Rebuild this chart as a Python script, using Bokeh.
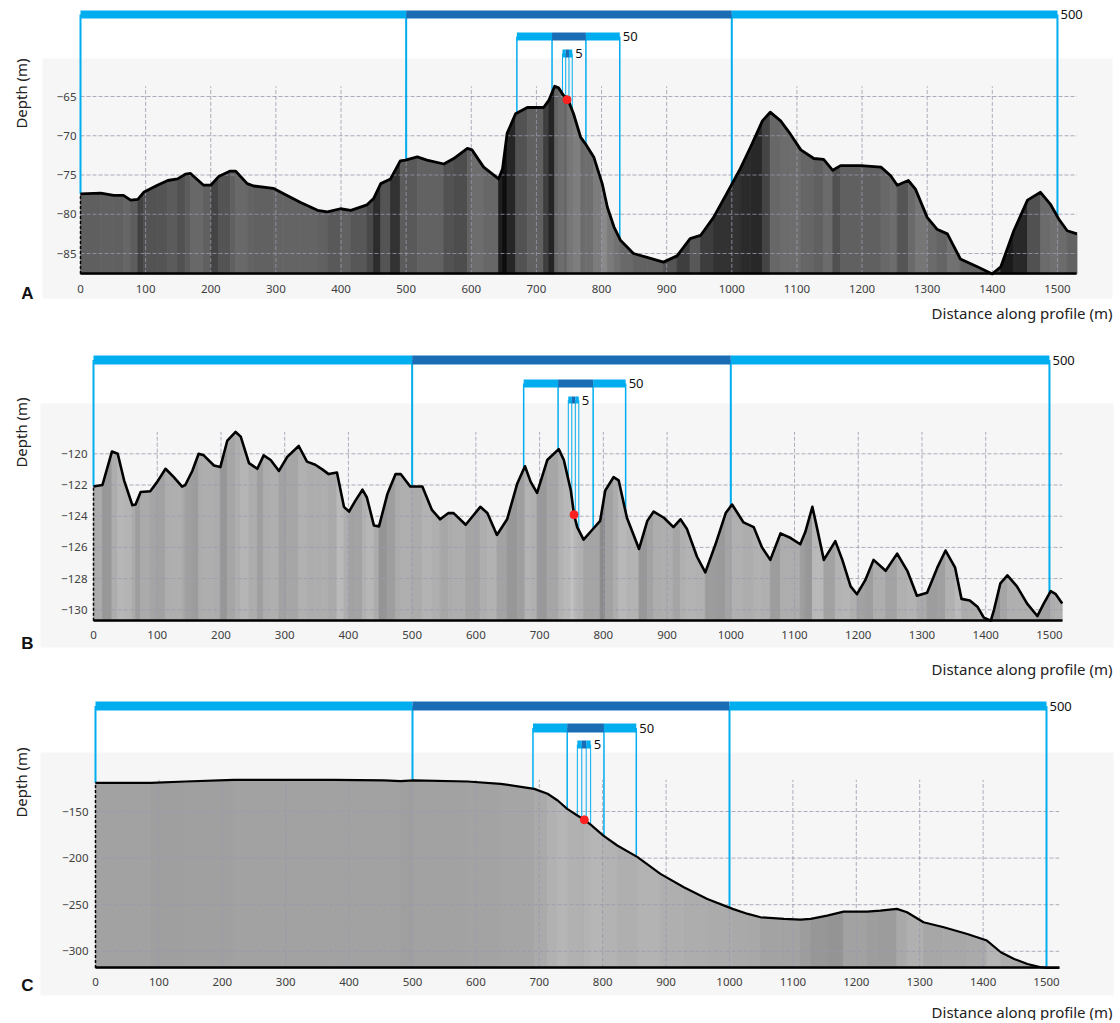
import numpy as np
from bokeh.plotting import figure
from bokeh.layouts import column
from bokeh.models import Range1d, Label, ColumnDataSource
from bokeh.embed import file_html
from bokeh.resources import INLINE

# ---------------- data ----------------
a_dist = [0, 31, 51, 66, 77, 88, 97, 118, 134, 149,
          161, 169, 189, 200, 212, 230, 238, 256, 266, 296,
          312, 338, 364, 379, 399, 415, 440, 450, 461, 476,
          491, 499, 517, 532, 558, 573, 594, 601, 619, 642,
          648, 655, 668, 686, 711, 719, 728, 734, 742, 748,
          757, 768, 775, 788, 801, 809, 819, 829, 849, 870,
          895, 916, 936, 952, 972, 998, 1013, 1029, 1047, 1059,
          1075, 1090, 1106, 1126, 1141, 1155, 1167, 1198, 1229, 1244,
          1254, 1271, 1282, 1300, 1315, 1331, 1351, 1377, 1400, 1413,
          1433, 1454, 1474, 1489, 1502, 1515, 1530]
a_depth = [-77.4, -77.3, -77.6, -77.6, -78.2, -78.1, -77.2, -76.3, -75.7, -75.5,
           -74.9, -74.8, -76.3, -76.3, -75.2, -74.5, -74.5, -76.1, -76.4, -76.7,
           -77.4, -78.5, -79.5, -79.7, -79.3, -79.5, -78.8, -78.0, -76.1, -75.5,
           -73.2, -73.1, -72.7, -73.1, -73.6, -72.9, -71.6, -71.8, -74.0, -75.5,
           -74.2, -69.7, -67.2, -66.4, -66.4, -65.5, -63.7, -63.9, -64.9, -65.3,
           -67.2, -70.2, -71.0, -72.7, -76.1, -79.1, -81.6, -83.3, -85.0, -85.5,
           -86.1, -85.3, -83.1, -82.7, -80.4, -76.5, -74.2, -71.4, -68.1, -67.0,
           -68.1, -69.8, -71.8, -72.9, -73.0, -74.4, -73.8, -73.8, -74.0, -75.1,
           -76.3, -75.7, -76.8, -80.4, -81.9, -82.5, -85.7, -86.7, -87.6, -86.7,
           -82.1, -78.2, -77.2, -78.7, -80.6, -82.1, -82.5]

b_dist = [0, 14, 22, 29, 38, 48, 61, 66, 74, 89,
          100, 113, 126, 139, 144, 155, 165, 173, 189, 199,
          210, 223, 231, 244, 257, 267, 278, 291, 304, 322,
          335, 348, 359, 369, 382, 393, 401, 411, 422, 429,
          440, 448, 461, 474, 482, 497, 516, 531, 544, 557,
          565, 584, 607, 618, 633, 649, 665, 677, 686, 696,
          712, 730, 738, 749, 754, 759, 769, 782, 795, 803,
          816, 824, 837, 856, 869, 879, 895, 910, 921, 931,
          947, 960, 976, 992, 1002, 1020, 1036, 1049, 1062, 1078,
          1094, 1109, 1117, 1128, 1135, 1146, 1164, 1175, 1188, 1198,
          1211, 1224, 1243, 1261, 1277, 1292, 1308, 1324, 1337, 1352,
          1362, 1375, 1387, 1397, 1408, 1413, 1423, 1434, 1449, 1465,
          1481, 1491, 1502, 1510, 1520]
b_depth = [-122.1, -122.0, -120.85, -119.85, -120.0, -121.7, -123.3, -123.25, -122.45, -122.4,
           -121.8, -120.96, -121.5, -122.1, -122.0, -121.1, -120.0, -120.1, -120.75, -120.85,
           -119.15, -118.6, -118.9, -120.6, -120.96, -120.1, -120.4, -121.1, -120.2, -119.5,
           -120.5, -120.7, -121.0, -121.3, -121.2, -123.4, -123.7, -123.0, -122.3, -122.8,
           -124.6, -124.65, -122.6, -121.3, -121.3, -122.1, -122.1, -123.6, -124.2, -123.8,
           -123.8, -124.55, -123.4, -123.8, -125.2, -124.2, -121.9, -120.8, -121.8, -122.5,
           -120.4, -119.7, -120.4, -122.35, -123.9, -124.7, -125.5, -124.9, -124.3, -122.35,
           -121.5, -121.7, -124.1, -126.1, -124.3, -123.7, -124.1, -124.7, -124.2, -124.8,
           -126.6, -127.6, -125.8, -123.8, -123.25, -124.4, -124.7, -126.0, -126.8, -125.1,
           -125.4, -125.8, -125.0, -123.4, -124.7, -126.8, -125.6, -126.8, -128.5, -129.0,
           -128.1, -126.8, -127.5, -126.4, -127.5, -129.1, -128.9, -127.3, -126.2, -127.3,
           -129.3, -129.4, -129.8, -130.5, -130.7, -130.0, -128.3, -127.8, -128.5, -129.6,
           -130.4, -129.6, -128.8, -129.0, -129.6]

c_dist = [0, 87, 142, 218, 376, 455, 481, 502, 587, 639,
          692, 713, 729, 744, 760, 771, 781, 801, 823, 855,
          891, 928, 965, 1005, 1029, 1049, 1086, 1112, 1128, 1154,
          1180, 1217, 1238, 1264, 1280, 1306, 1338, 1375, 1406, 1428,
          1449, 1470, 1491, 1501, 1520]
c_depth = [-119.2, -119.2, -117.8, -116.0, -116.0, -116.7, -117.4, -116.7, -117.8, -120.3,
           -125.7, -131.0, -138.2, -147.1, -154.3, -158.9, -164.0, -175.8, -186.5, -199.0,
           -216.9, -231.2, -243.8, -254.5, -259.9, -263.5, -265.2, -266.0, -265.2, -261.7,
           -257.4, -257.4, -256.3, -254.5, -258.1, -268.8, -274.2, -281.4, -288.5, -301.0,
           -308.2, -313.6, -317.1, -317.9, -317.9]

x_tick_values = list(range(0, 1600, 100))
a_depth_ticks = [-85, -80, -75, -70, -65]
b_depth_ticks = [-130, -128, -126, -124, -122, -120]
c_depth_ticks = [-300, -250, -200, -150]

scale_labels = ["500", "50", "5"]
a_bar500 = [0, 500, 1000, 1500]
a_bar50 = [670, 724, 776, 828]
a_bar5 = [740, 745, 750, 755]
b_bar500 = [0, 500, 1000, 1500]
b_bar50 = [675, 729, 784, 835]
b_bar5 = [745, 750.5, 756, 761.5]
c_bar500 = [0, 500, 1000, 1500]
c_bar50 = [690, 744, 802, 853]
c_bar5 = [760, 767, 774, 781]

a_point = (747, -65.4)
b_point = (754, -123.9)
c_point = (771, -158.9)

panel_letters = ["A", "B", "C"]

# ---------------- style / layout (page pixels) ----------------
LIGHT = "#00ADEE"
DARK = "#1A6DB5"
GRID = "#9A9AAE"
FONT = "Noto Sans"
W = 1118

geo_a = dict(fig_top=0, height=338, x0=80, ppx=0.6513, ref_d=-65, ref_py=96, ppy=7.85,
             bars=[(10, 18), (32, 40), (49, 57)], gray=(42, 58, 1112, 298),
             depth_lbl=(20, 93), letter=(27, 293), dist_lbl=(1112, 312),
             xstand=11, ystand=4, base=96, kup=300, kdn=110, lw=2.8)
geo_b = dict(fig_top=338, height=344, x0=93, ppx=0.6373, ref_d=-120, ref_py=453.3, ppy=15.6,
             bars=[(355, 364), (379, 387), (396, 403)], gray=(40, 403, 1113, 647),
             depth_lbl=(20, 432), letter=(27, 643), dist_lbl=(1112, 668),
             xstand=10, ystand=6, base=172, kup=140, kdn=70, lw=2.6)
geo_c = dict(fig_top=682, height=338, x0=95, ppx=0.634, ref_d=-150, ref_py=811, ppy=0.932,
             bars=[(701, 710), (723, 732), (740, 748)], gray=(40, 752, 1113, 995),
             depth_lbl=(20, 782), letter=(27, 985), dist_lbl=(1112, 1011),
             xstand=10, ystand=7, base=162, kup=80, kdn=35, lw=2.2)


def make_panel(letter, dist, depth, yticks, bars, point, g):
    xmax = max(dist)
    ymin = min(depth)
    ymax = max(depth)

    def dx(px):
        return (px - g["x0"]) / g["ppx"]

    def dy(py):
        return g["ref_d"] - (py - g["ref_py"]) / g["ppy"]

    top, H = g["fig_top"], g["height"]
    p = figure(width=W, height=H, x_range=Range1d(dx(0), dx(W)),
               y_range=Range1d(dy(top + H), dy(top)), output_backend="svg",
               toolbar_location=None, title=None, min_border=0)
    p.background_fill_color = "white"
    p.border_fill_color = "white"
    p.outline_line_color = None
    p.xgrid.visible = False
    p.ygrid.visible = False

    # light grey chart background
    gx0, gy0, gx1, gy1 = g["gray"]
    p.quad(left=[dx(gx0)], right=[dx(gx1)], top=[dy(gy0)], bottom=[dy(gy1)],
           fill_color="#F6F6F6", line_color=None)

    # shaded profile fill (one stripe per profile segment, shade from local slope)
    xs, ys, cols = [], [], []
    for i in range(len(dist) - 1):
        s = (depth[i + 1] - depth[i]) / (dist[i + 1] - dist[i])
        gv = g["base"] - g["kup"] * max(s, 0) + g["kdn"] * max(-s, 0)
        gv = int(min(225, max(14, gv)))
        xs.append([dist[i], dist[i], dist[i + 1], dist[i + 1]])
        ys.append([ymin, depth[i], depth[i + 1], ymin])
        cols.append("#%02x%02x%02x" % (gv, gv, gv))
    src = ColumnDataSource(dict(xs=xs, ys=ys, c=cols))
    p.patches("xs", "ys", source=src, fill_color="c", line_color="c", line_width=0.8)

    # grid lines limited to the data extent
    vx = [t for t in x_tick_values if 0 < t <= xmax]
    p.segment(x0=vx, y0=[ymin] * len(vx), x1=vx, y1=[ymax] * len(vx),
              line_color=GRID, line_dash="4 2", line_width=1, line_alpha=0.8)
    p.segment(x0=[0] * len(yticks), y0=yticks, x1=[xmax] * len(yticks), y1=yticks,
              line_color=GRID, line_dash="4 2", line_width=1, line_alpha=0.8)

    # scale bar drop lines
    widths = [2, 1.5, 1]
    ylev = []
    for edges, (py0, py1), lw in zip(bars, g["bars"], widths):
        yt, yb = dy(py0), dy(py1)
        ym = (yt + yb) / 2
        ylev.append((yt, yb, ym))
        prof = list(np.interp(edges, dist, depth))
        p.segment(x0=edges, y0=[ym] * len(edges), x1=edges, y1=prof,
                  line_color=LIGHT, line_width=lw)

    # left dashed edge of profile
    p.segment(x0=[0], y0=[ymin], x1=[0], y1=[depth[0]], line_color="black",
              line_dash="3 2", line_width=1.5)

    # profile line
    p.line(dist, depth, line_color="black", line_width=g["lw"], line_join="round")

    # scale bars
    for k, (edges, (yt, yb, ym)) in enumerate(zip(bars, ylev)):
        p.quad(left=edges[:-1], right=edges[1:], top=[yt] * 3, bottom=[yb] * 3,
               fill_color=[LIGHT, DARK, LIGHT], line_color=None)
        p.add_layout(Label(x=edges[-1], y=ym, x_offset=3, text=scale_labels[k],
                           text_baseline="middle", text_align="left",
                           text_font=FONT, text_font_size="13px", text_color="#111111"))

    # location point
    p.scatter([point[0]], [point[1]], size=8, color="#FF2020")

    # axes drawn inside the frame at the data edges
    p.xaxis.fixed_location = ymin
    p.xaxis.bounds = (0, xmax)
    p.yaxis.fixed_location = 0
    p.yaxis.bounds = (ymin, ymax)
    p.xaxis.ticker = x_tick_values
    p.yaxis.ticker = yticks
    for ax in (p.xaxis, p.yaxis):
        ax.major_label_text_font = FONT
        ax.major_label_text_font_size = "11.5px"
        ax.major_label_text_color = "#404040"
        ax.major_tick_line_color = None
        ax.minor_tick_line_color = None
        ax.major_tick_in = 0
        ax.major_tick_out = 0
        ax.minor_tick_in = 0
        ax.minor_tick_out = 0
    p.xaxis.axis_line_color = "black"
    p.xaxis.axis_line_width = 2.5
    p.xaxis.major_label_standoff = g["xstand"]
    p.yaxis.axis_line_color = None
    p.yaxis.major_label_standoff = g["ystand"]

    # texts
    lx, ly = g["depth_lbl"]
    p.add_layout(Label(x=dx(lx), y=dy(ly), text="Depth (m)", angle=np.pi / 2,
                       text_align="center", text_baseline="middle", text_font=FONT,
                       text_font_size="15px", text_color="#222222"))
    lx, ly = g["letter"]
    p.add_layout(Label(x=dx(lx), y=dy(ly), text=letter, text_align="center",
                       text_baseline="middle", text_font="Liberation Sans",
                       text_font_style="bold", text_font_size="17px", text_color="#111111"))
    lx, ly = g["dist_lbl"]
    p.add_layout(Label(x=dx(lx), y=dy(ly), text="Distance along profile (m)",
                       text_align="right", text_baseline="middle", text_font=FONT,
                       text_font_size="15px", text_color="#222222"))
    return p


pa = make_panel(panel_letters[0], a_dist, a_depth, a_depth_ticks,
                [a_bar500, a_bar50, a_bar5], a_point, geo_a)
pb = make_panel(panel_letters[1], b_dist, b_depth, b_depth_ticks,
                [b_bar500, b_bar50, b_bar5], b_point, geo_b)
pc = make_panel(panel_letters[2], c_dist, c_depth, c_depth_ticks,
                [c_bar500, c_bar50, c_bar5], c_point, geo_c)

layout = column(pa, pb, pc, spacing=0)
open("out.html", "w").write(file_html(layout, INLINE, title="Depth profiles"))
